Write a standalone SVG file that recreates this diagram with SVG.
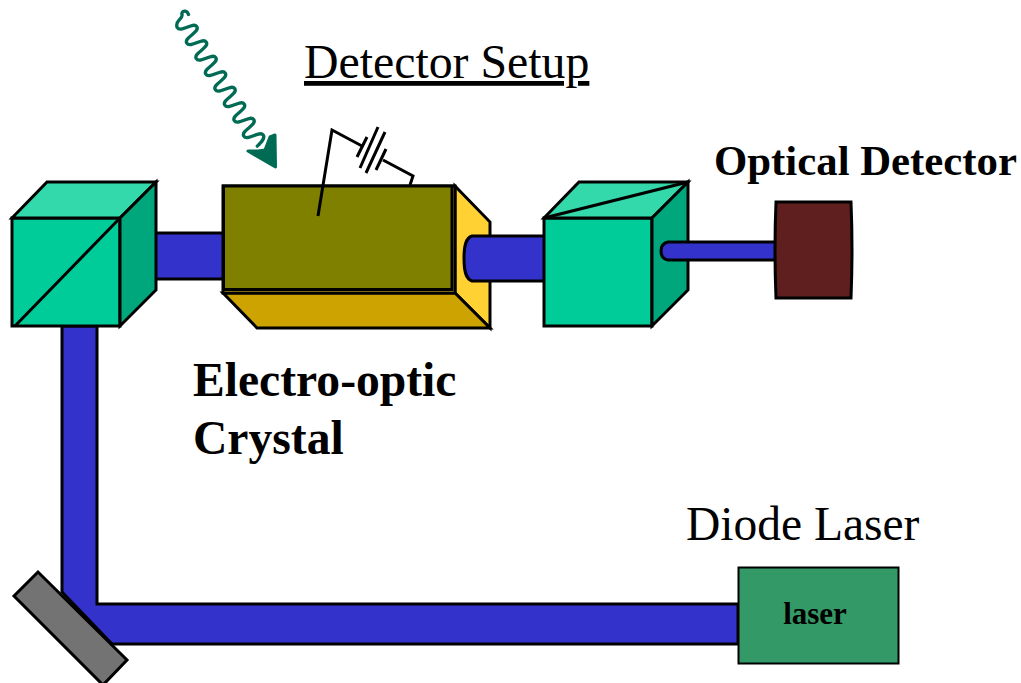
<svg xmlns="http://www.w3.org/2000/svg" width="1021" height="683" viewBox="0 0 1021 683">
<style>
.s{stroke:#000;stroke-width:3;stroke-linejoin:miter}
.beam{fill:#3333cc}
.front{fill:#00cc99}
.top{fill:#33d9ab}
.side{fill:#00a67c}
.w{fill:none;stroke:#000;stroke-width:3}
text{font-family:"Liberation Serif","Times New Roman",serif;fill:#000}
.b{font-weight:bold}
</style>
<rect width="1021" height="683" fill="#fff"/>
<g id="connectors">
<rect class="s beam" x="155" y="233" width="70" height="46"/>
<path class="s beam" d="M62 326H97V604H738V644H112L62 592Z"/>
</g>
<g id="beam-splitter-left">
<path class="s front" d="M12 218H120V326H12Z"/>
<path class="s top" d="M12 218L47 182H156L120 218Z"/>
<path class="s side" d="M120 218L156 182V290L120 326Z"/>
<path class="w" d="M15 326L120 218"/>
</g>
<g id="crystal">
<path class="s" fill="#ffd133" d="M455 186L490 222V328L455 293Z"/>
<path class="s" fill="#cca300" d="M223 293L257 328H490L455 293Z"/>
<rect class="s" fill="#ffd133" x="223" y="186" width="232" height="107"/>
<rect class="s" fill="#808000" x="223.500" y="186" width="228.500" height="103.500"/>
</g>
<g id="beam-to-analyzer">
<path class="s beam" d="M545 236H472C466 238 464 245 464 258C464 272 466 279 472 281H545Z"/>
</g>
<g id="analyzer">
<path class="s front" d="M544 218H652V326H544Z"/>
<path class="s top" d="M544 218L579 182H688L652 218Z"/>
<path class="s side" d="M652 218L688 182V290L652 326Z"/>
<path class="w" d="M544 218L688 182"/>
</g>
<g id="beam-to-detector">
<path class="s beam" d="M777 242H668C663 243 661 247 661 251C661 255 663 259 668 260H777Z"/>
</g>
<g id="optical-detector">
<path class="s" fill="#5f1f1f" d="M776 202H851Q853 250 851 298H776Q774 250 776 202Z"/>
</g>
<g id="mirror">
<path class="s" fill="#737373" d="M38 572L14 596L103 685L127 660Z"/>
</g>
<g id="diode-laser">
<rect x="738.500" y="567.500" width="160" height="96" fill="#339966" stroke="#000" stroke-width="2"/>
<text class="b" x="815" y="624" font-size="31" text-anchor="middle">laser</text>
</g>
<g id="radiation">
<path fill="none" stroke="#006b54" stroke-width="3.300" stroke-linecap="round" d="M188.500 14.500C187 10 181 10 182 15C183 19 174 21 177.300 27.700c3.500 5.500 16 -6.500 19.500 -1c3.500 5.500 -13.500 11 -10 16.500c3.500 5.500 16 -6.500 19.500 -1c3.500 5.500 -13.500 11 -10 16.500c3.500 5.500 16 -6.500 19.500 -1c3.500 5.500 -13.500 11 -10 16.500c3.500 5.500 16 -6.500 19.500 -1c3.500 5.500 -13.500 11 -10 16.500c3.500 5.500 16 -6.500 19.500 -1c3.500 5.500 -13.500 11 -10 16.500c3.500 5.500 16 -6.500 19.500 -1c3.500 5.500 -13.500 11 -10 16.500c3.500 5.500 16 -6.500 19.500 -1c3.500 5.500 -13.500 11 -10 16.500c3.500 5.500 16 -6.500 19.500 -1c2 3 -2 7 -6 11"/>
<path fill="#006b54" stroke="#006b54" stroke-width="3" stroke-linejoin="round" d="M248 151L258 151L265 150L270 137L275 135L275.500 167Z"/>
</g>
<g id="bias-circuit">
<path class="w" d="M318 216L332 130L362 146M383 160L413 176L410 185"/>
<path class="w" d="M357 157L367 137M360 168L378 127M366 173L385 132M376 170L386 149"/>
</g>
<g id="labels">
<text x="304" y="78" font-size="47.800" text-decoration="underline">Detector Setup</text>
<text class="b" x="714" y="175" font-size="42.800">Optical Detector</text>
<text class="b" x="193" y="396" font-size="47.600">Electro-optic</text>
<text class="b" x="193" y="454" font-size="47.600">Crystal</text>
<text x="686" y="540" font-size="47.500">Diode Laser</text>
</g>
</svg>
